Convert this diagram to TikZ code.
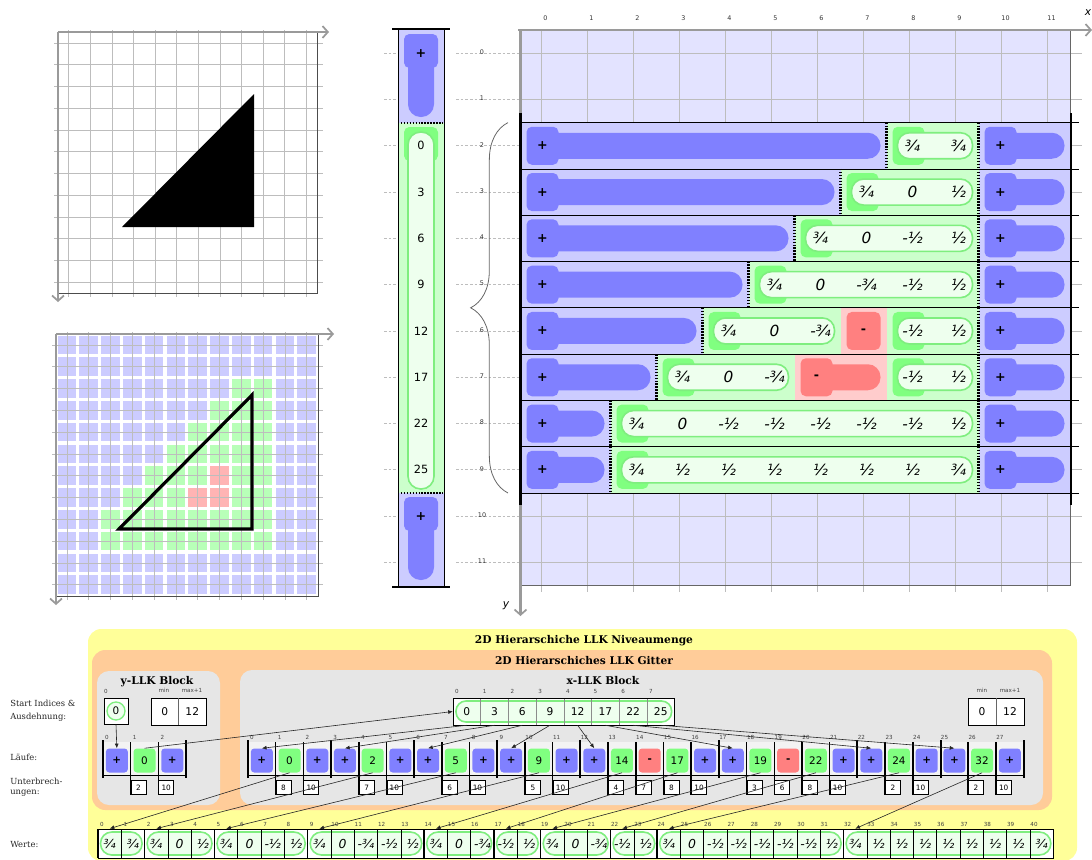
\documentclass[tikz,border=0pt]{standalone}
\usepackage{fontspec}
\setmainfont{DejaVu Serif}
\newfontfamily\dvs{DejaVu Sans}
\usetikzlibrary{arrows.meta,decorations.pathreplacing}
\definecolor{bandB}{HTML}{CCCCFF}
\definecolor{keyB}{HTML}{8080FF}
\definecolor{bgB}{HTML}{E3E3FF}
\definecolor{bandG}{HTML}{CCFFCC}
\definecolor{keyG}{HTML}{80FF80}
\definecolor{sqG}{HTML}{B8FFB8}
\definecolor{pillG}{HTML}{EEFFEE}
\definecolor{pillGs}{HTML}{7FEE7F}
\definecolor{bandR}{HTML}{FFCCCC}
\definecolor{keyR}{HTML}{FF8080}
\definecolor{sqR}{HTML}{FFB4B4}
\definecolor{gridc}{HTML}{BDBDBD}
\definecolor{axc}{HTML}{9A9A9A}
\definecolor{yel}{HTML}{FFFF99}
\definecolor{ora}{HTML}{FFCC99}
\definecolor{pan}{HTML}{E6E6E6}
\definecolor{stripc}{HTML}{F3F3F3}
\tikzset{
  gline/.style={draw=gridc, line width=0.6pt},
  axisline/.style={draw=axc, line width=1.8pt, -{Straight Barb[length=4pt,width=9pt,line width=1.3pt]}},
  dotsep/.style={draw=black, line width=1.6pt, dash pattern=on 1.1pt off 1.1pt},
  fval/.style={font=\dvs\itshape\fontsize{11.5}{13}\selectfont, inner sep=0pt},
  sval/.style={font=\dvs\fontsize{8.5}{10}\selectfont, inner sep=0pt},
  keysym/.style={font=\dvs\bfseries\fontsize{9.5}{10}\selectfont, inner sep=0pt},
  tinylbl/.style={font=\dvs\fontsize{4.2}{5}\selectfont, inner sep=0pt, text=black!75},
  rowlbl/.style={font=\dvs\fontsize{4.8}{5}\selectfont, inner sep=0pt, text=black!80},
  pill/.style={fill=pillG, draw=pillGs, line width=1.2pt},
  runcell/.style={rectangle, rounded corners=2.5pt, minimum width=16.5pt, minimum height=18pt, inner sep=0pt, font=\dvs\fontsize{7.8}{8}\selectfont},
  wcell/.style={rectangle, draw=black, line width=0.5pt, minimum width=17.475pt, minimum height=21.75pt, inner sep=0pt, font=\dvs\itshape\fontsize{9.3}{10}\selectfont},
  acell/.style={rectangle, minimum width=20.6pt, minimum height=20.25pt, inner sep=0pt, font=\dvs\fontsize{8}{9}\selectfont},
  brk/.style={rectangle, draw=black, fill=white, line width=0.5pt, minimum width=11.25pt, minimum height=10.5pt, inner sep=0pt, font=\dvs\fontsize{5.5}{6}\selectfont},
  conn/.style={draw=black!85, line width=0.45pt, -{Latex[length=3.5pt,width=3pt]}},
  ptitle/.style={font=\bfseries\fontsize{8}{9}\selectfont, inner sep=0pt},
  sidelbl/.style={font=\fontsize{6.3}{8}\selectfont, anchor=west, inner sep=0pt, text=black!85},
}
\newcommand\kp{{\bfseries +}}
\newcommand\km{{\bfseries -}}
\newcommand\hkey[5]{%
  \fill[#4, rounded corners=9.5pt] ({#1+10},{#3-13}) rectangle ({#2-6},{#3+13});
  \fill[#4, rounded corners=4pt] ({#1+6},{#3-19}) rectangle ({#1+38},{#3+19});
  \node[keysym] at ({#1+22},{#3}) {#5};}
\newcommand\gseg[3]{%
  \fill[keyG, rounded corners=4pt] ({#1+6},{#3-19}) rectangle ({#1+38},{#3+19});
  \filldraw[pill, rounded corners=9pt] ({#1+11},{#3-13}) rectangle ({#2-6},{#3+13});}
\newcommand\vals[2]{\foreach \k/\v in {#2} \node[fval] at ({541.5+46*\k+3},{#1}) {\v};}
\begin{document}
\begin{tikzpicture}[x=0.75pt,y=-0.75pt]
\useasboundingbox (0,0) rectangle (1092,860);
\clip (0,0) rectangle (1092,860);
% ---------- grid 1 ----------
\fill[white] (58,32) rectangle (317,293);
\foreach \i in {0,...,11} {
  \draw[gline] ({68.8+21.6*\i},30) -- ({68.8+21.6*\i},297);
  \draw[gline] (54,{42.9+21.75*\i}) -- (323,{42.9+21.75*\i});
}
\draw[black!70, line width=0.6pt] (317,32) -- (317,293) -- (58,293);
\fill[black] (122,227) -- (254,94) -- (254,227) -- cycle;
\draw[axisline] (58,32) -- (329,32);
\draw[axisline] (58,32) -- (58,302);
% ---------- grid 2 ----------
\foreach \i in {0,...,11} \foreach \j in {0,...,11}
  \fill[bandB] ({57.6+21.8*\i},{335.6+21.8*\j}) rectangle ++(18.6,18.6);
\foreach \j/\s in {2/8,3/7,4/6,5/5,6/4,7/3,8/2,9/2}
  \foreach \i in {\s,...,9}
    \fill[sqG] ({57.6+21.8*\i},{335.6+21.8*\j}) rectangle ++(18.6,18.6);
\foreach \i/\j in {7/6,6/7,7/7}
  \fill[sqR] ({57.6+21.8*\i},{335.6+21.8*\j}) rectangle ++(18.6,18.6);
\foreach \i in {0,...,11} {
  \draw[gline] ({66.9+21.8*\i},332) -- ({66.9+21.8*\i},600);
  \draw[gline] (52,{344.9+21.8*\i}) -- (323,{344.9+21.8*\i});
}
\draw[black!70, line width=0.6pt] (318,334) -- (318,596) -- (56,596);
\draw[line width=2.4pt, line join=miter] (119,529) -- (252,395) -- (252,529) -- cycle;
\draw[axisline] (56,334) -- (334,334);
\draw[axisline] (56,334) -- (56,605);
% ---------- top-right grid ----------
\fill[bgB] (520.5,30) rectangle (1070.5,585.6);
\foreach \k in {0,...,11} {
  \draw[gline] ({541.5+46*\k},30) -- ({541.5+46*\k},592);
  \node[rowlbl] at ({541.5+46*\k+4},18) {\k};
}
\foreach \j in {0,...,11} {
  \draw[gline] (521,{53.15+46.3*\j}) -- (1082,{53.15+46.3*\j});
  \draw[gline, dash pattern=on 2pt off 1.5pt] (384,{53.15+46.3*\j}) -- (398,{53.15+46.3*\j});
  \draw[gline, dash pattern=on 2pt off 1.5pt] (456,{53.15+46.3*\j}) -- (521,{53.15+46.3*\j});
  \node[rowlbl] at (482,{53.15+46.3*\j-1}) {\j};
}
\fill[bandB] (520.5,122.6) rectangle (1070.5,493);
\foreach \j/\g in {2/886.5,3/840.5,4/794.5,5/748.5,6/702.5,7/656.5,8/610.5,9/610.5}{
  \pgfmathsetmacro\T{30+46.3*\j}
  \pgfmathsetmacro\yc{\T+23.15}
  \fill[bandG] (\g,\T) rectangle (978.5,{\T+46.3});
  \hkey{520.5}{\g}{\yc}{keyB}{+}
  \hkey{978.5}{1070.5}{\yc}{keyB}{+}
}
\fill[bandR] (840.5,307.8) rectangle (886.5,354.1);
\fill[bandR] (794.5,354.1) rectangle (886.5,400.4);
\gseg{886.5}{978.5}{145.75} \vals{145.75}{8/¾,9/¾}
\gseg{840.5}{978.5}{192.05} \vals{192.05}{7/¾,8/0,9/½}
\gseg{794.5}{978.5}{238.35} \vals{238.35}{6/¾,7/0,8/-½,9/½}
\gseg{748.5}{978.5}{284.65} \vals{284.65}{5/¾,6/0,7/-¾,8/-½,9/½}
\gseg{702.5}{840.5}{330.95} \vals{330.95}{4/¾,5/0,6/-¾}
\fill[keyR, rounded corners=4pt] (846.5,311.95) rectangle (880.5,349.95);
\node[keysym] at (863.5,330.95) {-};
\gseg{886.5}{978.5}{330.95} \vals{330.95}{8/-½,9/½}
\gseg{656.5}{794.5}{377.25} \vals{377.25}{3/¾,4/0,5/-¾}
\hkey{794.5}{886.5}{377.25}{keyR}{-}
\gseg{886.5}{978.5}{377.25} \vals{377.25}{8/-½,9/½}
\gseg{610.5}{978.5}{423.55} \vals{423.55}{2/¾,3/0,4/-½,5/-½,6/-½,7/-½,8/-½,9/½}
\gseg{610.5}{978.5}{469.85} \vals{469.85}{2/¾,3/½,4/½,5/½,6/½,7/½,8/½,9/¾}
\foreach \j/\g in {2/886.5,3/840.5,4/794.5,5/748.5,6/702.5,7/656.5,8/610.5,9/610.5}{
  \pgfmathsetmacro\T{30+46.3*\j}
  \draw[dotsep] (\g,\T) -- (\g,{\T+46.3});
  \draw[dotsep] (978.5,\T) -- (978.5,{\T+46.3});
}
\foreach \m in {0,...,8} \draw[black, line width=0.6pt] (520.5,{122.6+46.3*\m}) -- (1079,{122.6+46.3*\m});
\draw[black!60, line width=0.6pt] (1070.5,30) -- (1070.5,585.6) -- (520.5,585.6);
\draw[line width=1.8pt] (1071,113) -- (1071,505);
\draw[axisline] (518,30) -- (1092,30);
\draw[axisline] (520.5,30) -- (520.5,616);
\draw[line width=1.8pt] (520.5,113) -- (520.5,505);
\node[font=\dvs\itshape\fontsize{8}{9}\selectfont, inner sep=0pt] at (1088,13) {x};
\node[font=\dvs\itshape\fontsize{8}{9}\selectfont, inner sep=0pt] at (506,606) {y};
\draw[black!60, line width=0.6pt, decorate, decoration={brace, amplitude=28pt}] (508,493) -- (508,122.6);
% ---------- vertical strip ----------
\fill[bandB] (398,30) rectangle (444,122.6);
\fill[bandG] (398,122.6) rectangle (444,493);
\fill[bandB] (398,493) rectangle (444,585.6);
\fill[keyB, rounded corners=9.5pt] (408,40) rectangle (434,117);
\fill[keyB, rounded corners=4pt] (404,34) rectangle (438,68);
\node[keysym] at (421,53.15) {+};
\fill[keyG, rounded corners=4pt] (404,127) rectangle (438,161);
\filldraw[pill, rounded corners=9.5pt] (408,132) rectangle (434,489);
\foreach \j/\v in {2/0,3/3,4/6,5/9,6/12,7/17,8/22,9/25} \node[sval] at (421,{53.15+46.3*\j}) {\v};
\fill[keyB, rounded corners=9.5pt] (408,503) rectangle (434,580);
\fill[keyB, rounded corners=4pt] (404,497) rectangle (438,531);
\node[keysym] at (421,516.15) {+};
\draw[dotsep] (398,122.6) -- (444,122.6);
\draw[dotsep] (398,493) -- (444,493);
\draw[black, line width=0.6pt] (398,30) -- (398,586) (444,30) -- (444,586);
\draw[black, line width=2pt] (392,29) -- (450,29) (392,587) -- (450,587);
% ---------- bottom panel ----------
\fill[yel, rounded corners=10pt] (88,629) rectangle (1077,861);
\node[ptitle] at (584,641) {2D Hierarschiche LLK Niveaumenge};
\fill[ora, rounded corners=10pt] (92,650) rectangle (1052,810);
\node[ptitle] at (584,661) {2D Hierarschiches LLK Gitter};
\fill[pan, rounded corners=9pt] (97,671) rectangle (220,805);
\node[ptitle] at (157,682) {y-LLK Block};
\fill[pan, rounded corners=9pt] (240,670) rectangle (1043,805);
\node[ptitle] at (603,681) {x-LLK Block};
\node[sidelbl] at (10,703) {Start Indices \&};
\node[sidelbl] at (10,717) {Ausdehnung:};
\node[sidelbl] at (10,757) {Läufe:};
\node[sidelbl] at (10,781) {Unterbrech-};
\node[sidelbl] at (10,793) {ungen:};
\node[sidelbl] at (10,844) {Werte:};
% y block
\node[tinylbl] at (106,691) {0};
\node[rectangle, draw=black, fill=white, line width=0.5pt, minimum width=18pt, minimum height=19.5pt] (YS) at (116,711) {};
\node[circle, fill=pillG, draw=pillGs, line width=1pt, minimum size=13.5pt, inner sep=0pt, font=\dvs\fontsize{7.8}{8}\selectfont] (YSC) at (116,711) {0};
\node[tinylbl] at (164,690) {min};
\node[tinylbl] at (192,690) {max+1};
\draw[fill=white, line width=0.5pt] (151,698) rectangle (206,725);
\draw[black!60, line width=0.4pt] (178.5,698) -- (178.5,725);
\node[acell] (YMN) at (164.75,711.5) {0};
\node[acell] (YMX) at (192.25,711.5) {12};
\fill[stripc] (103,742) rectangle (186,775);
\foreach \i/\c/\v in {0/B/\kp,1/G/0,2/B/\kp} {
  \node[runcell, fill=key\c] (YL\i) at ({103+27.7*\i+13.85},760.5) {\v};
  \node[tinylbl] at ({103+27.7*\i+4},737) {\i};
}
\draw[line width=0.6pt] (103,775) -- (186,775);
\draw[line width=1.5pt] (103,740) -- (103,778) (186,740) -- (186,778);
\draw[line width=1.1pt] (130.7,742) -- (130.7,795) (158.4,742) -- (158.4,795);
\node[brk, anchor=south west] (YB0) at (130.7,795) {2};
\node[brk, anchor=south west] (YB1) at (158.4,795) {10};
% x block: start indices
\foreach \i in {0,...,7} \node[tinylbl] at ({453+27.7*\i+4},691) {\i};
\fill[white] (453,698) rectangle (674.6,725);
\filldraw[pill, rounded corners=7.5pt] (456,701) rectangle (671.6,722);
\foreach \i in {1,...,7} \draw[black!45, line width=0.4pt] ({453+27.7*\i},698) -- ({453+27.7*\i},725);
\draw[line width=0.6pt] (453,698) rectangle (674.6,725);
\foreach \i/\v in {0/0,1/3,2/6,3/9,4/12,5/17,6/22,7/25} \node[acell] (A\i) at ({453+27.7*\i+13.85},711.5) {\v};
\node[tinylbl] at (982,690) {min};
\node[tinylbl] at (1010,690) {max+1};
\draw[fill=white, line width=0.5pt] (968,698) rectangle (1024,725);
\draw[black!60, line width=0.4pt] (996,698) -- (996,725);
\node[acell] (XMN) at (982,711.5) {0};
\node[acell] (XMX) at (1010,711.5) {12};
% x block: runs
\fill[stripc] (248,742) rectangle (1023.6,775);
\foreach \i/\c/\v in {0/B/\kp,1/G/0,2/B/\kp,3/B/\kp,4/G/2,5/B/\kp,6/B/\kp,7/G/5,8/B/\kp,9/B/\kp,10/G/9,11/B/\kp,12/B/\kp,13/G/14,14/R/\km,15/G/17,16/B/\kp,17/B/\kp,18/G/19,19/R/\km,20/G/22,21/B/\kp,22/B/\kp,23/G/24,24/B/\kp,25/B/\kp,26/G/32,27/B/\kp} {
  \node[runcell, fill=key\c] (L\i) at ({248+27.7*\i+13.85},760.5) {\v};
  \node[tinylbl] at ({248+27.7*\i+4},737) {\i};
}
\draw[line width=0.6pt] (248,775) -- (1023.6,775);
\foreach \g in {0,3,6,9,12,17,22,25,28} \draw[line width=1.5pt] ({248+27.7*\g},740) -- ({248+27.7*\g},778);
\foreach \b/\v in {1/8,2/10,4/7,5/10,7/6,8/10,10/5,11/10,13/4,14/7,15/8,16/10,18/3,19/6,20/8,21/10,23/2,24/10,26/2,27/10} {
  \draw[line width=1.1pt] ({248+27.7*\b},742) -- ({248+27.7*\b},795);
  \node[brk, anchor=south west] (B\b) at ({248+27.7*\b},795) {\v};
}
% values
\fill[white] (98,829) rectangle (1053.3,858);
\foreach \a/\b in {0/2,2/5,5/9,9/14,14/17,17/19,19/22,22/24,24/32,32/41}
  \filldraw[pill, rounded corners=8.5pt] ({98+23.3*\a+2.5},832) rectangle ({98+23.3*\b-2.5},855);
\foreach \i/\v in {0/¾,1/¾,2/¾,3/0,4/½,5/¾,6/0,7/-½,8/½,9/¾,10/0,11/-¾,12/-½,13/½,14/¾,15/0,16/-¾,17/-½,18/½,19/¾,20/0,21/-¾,22/-½,23/½,24/¾,25/0,26/-½,27/-½,28/-½,29/-½,30/-½,31/½,32/¾,33/½,34/½,35/½,36/½,37/½,38/½,39/½,40/¾} {
  \node[wcell] (W\i) at ({98+23.3*\i+11.65},843.5) {\v};
  \node[tinylbl] at ({98+23.3*\i+4},824.5) {\i};
}
\foreach \g in {0,2,5,9,14,17,19,22,24,32,41} \draw[line width=1.1pt] ({98+23.3*\g},829) -- ({98+23.3*\g},858);
% connectors
\draw[conn] (YS.south) -- (YL0.north);
\draw[conn] (YL1.north) -- (A0.west);
\foreach \a/\l in {0/0,1/3,2/6,3/9,4/12,5/17,6/22,7/25} \draw[conn] (A\a.south) -- (L\l.north);
\foreach \l/\w in {1/0,4/2,7/5,10/9,13/14,15/17,18/19,20/22,23/24,26/32} \draw[conn] (L\l.south) -- (W\w.north);
\end{tikzpicture}
\end{document}
